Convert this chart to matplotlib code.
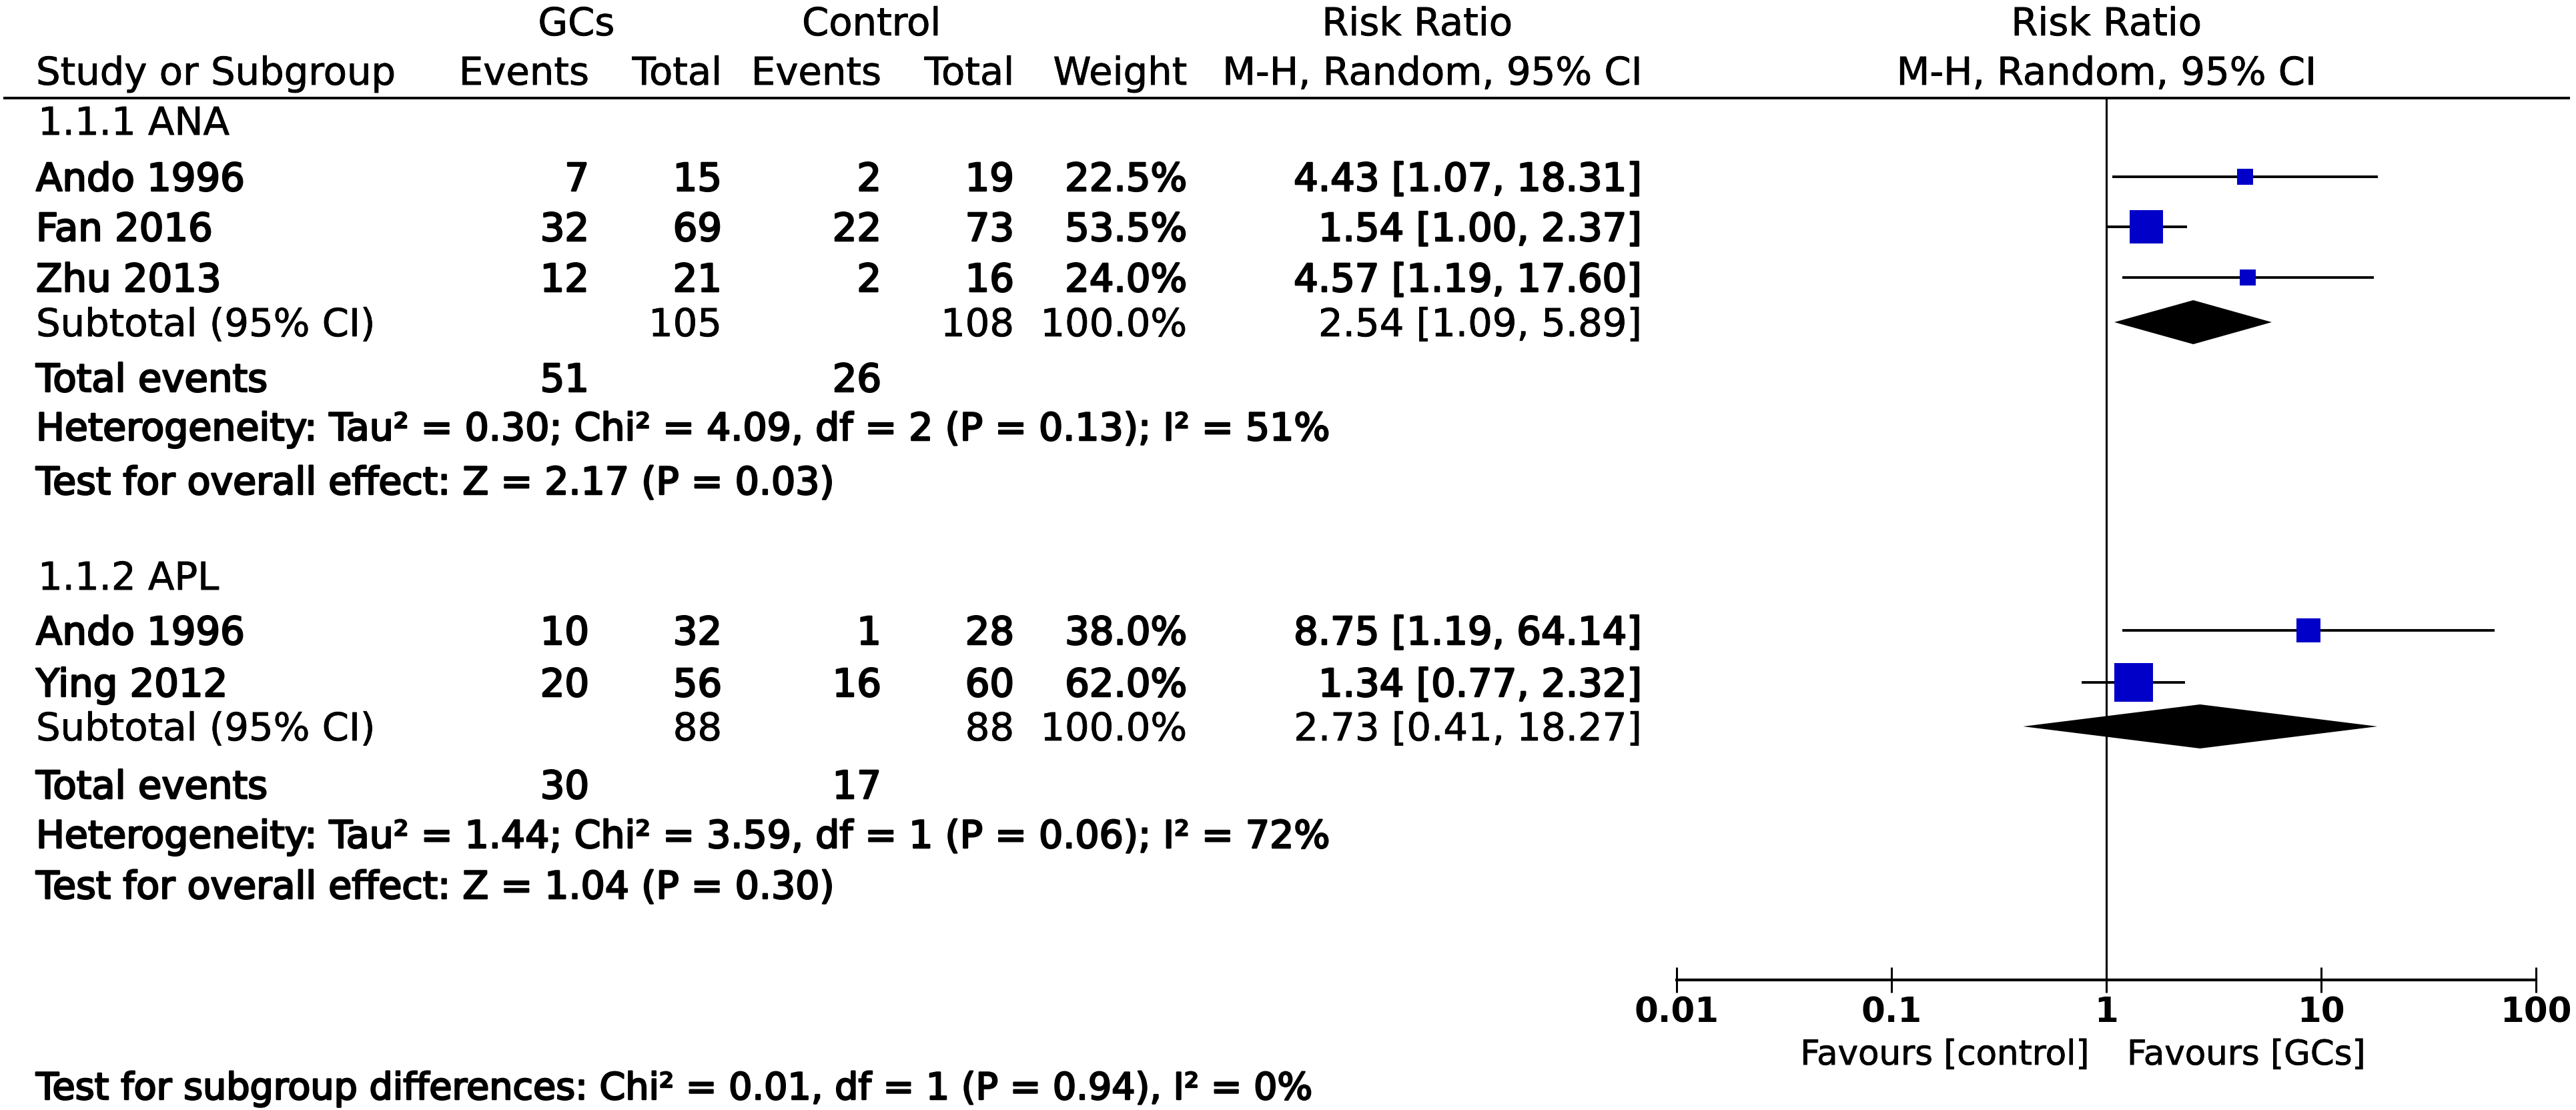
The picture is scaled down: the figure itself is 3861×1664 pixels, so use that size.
import matplotlib
matplotlib.use("Agg")
import matplotlib.pyplot as plt
import matplotlib.patheffects as pe
from matplotlib.ticker import NullLocator

# subgroup 1.1.1 ANA
ana_names = ["Ando 1996", "Fan 2016", "Zhu 2013"]
ana_gc_events = [7, 32, 12]
ana_gc_total = [15, 69, 21]
ana_ctl_events = [2, 22, 2]
ana_ctl_total = [19, 73, 16]
ana_weight = [22.5, 53.5, 24.0]
ana_rr = [4.43, 1.54, 4.57]
ana_lo = [1.07, 1.00, 1.19]
ana_hi = [18.31, 2.37, 17.60]
ana_sub = [2.54, 1.09, 5.89]          # pooled rr, lo, hi
ana_sub_totals = [105, 108]
ana_total_events = [51, 26]
ana_het = "Heterogeneity: Tau² = 0.30; Chi² = 4.09, df = 2 (P = 0.13); I² = 51%"
ana_test = "Test for overall effect: Z = 2.17 (P = 0.03)"

# subgroup 1.1.2 APL
apl_names = ["Ando 1996", "Ying 2012"]
apl_gc_events = [10, 20]
apl_gc_total = [32, 56]
apl_ctl_events = [1, 16]
apl_ctl_total = [28, 60]
apl_weight = [38.0, 62.0]
apl_rr = [8.75, 1.34]
apl_lo = [1.19, 0.77]
apl_hi = [64.14, 2.32]
apl_sub = [2.73, 0.41, 18.27]
apl_sub_totals = [88, 88]
apl_total_events = [30, 17]
apl_het = "Heterogeneity: Tau² = 1.44; Chi² = 3.59, df = 1 (P = 0.06); I² = 72%"
apl_test = "Test for overall effect: Z = 1.04 (P = 0.30)"

subgroup_test = "Test for subgroup differences: Chi² = 0.01, df = 1 (P = 0.94), I² = 0%"

tick_vals = [0.01, 0.1, 1, 10, 100]
tick_labels = ["0.01", "0.1", "1", "10", "100"]

plt.rcParams['font.family'] = ['DejaVu Sans']

W, H = 3862, 1664
FS = 41.5
BOLD = [pe.withStroke(linewidth=1.8, foreground="black")]
REG = [pe.withStroke(linewidth=0.6, foreground="black")]

fig = plt.figure(figsize=(W / 100, H / 100), dpi=100)
tab = fig.add_axes([0, 0, 1, 1])
tab.set_xlim(0, W)
tab.set_ylim(H, 0)
tab.axis("off")

# column right edges (pixels)
X_NAME = 54
X_GCE, X_GCT, X_CTE, X_CTT, X_W, X_RR = 883, 1082, 1321, 1520, 1779, 2461


def put(x, y, s, ha="right", bold=False, size=FS):
    t = tab.text(x, y, s, ha=ha, va="baseline", fontsize=size, color="black")
    t.set_path_effects(BOLD if bold else REG)
    return t


def ci_text(r, lo, hi):
    return f"{r:.2f} [{lo:.2f}, {hi:.2f}]"


# headers
put(864, 53, "GCs", ha="center")
put(1306, 53, "Control", ha="center")
put(2124, 53, "Risk Ratio", ha="center")
put(3157, 53, "Risk Ratio", ha="center")
put(X_NAME, 127, "Study or Subgroup", ha="left")
put(X_GCE, 127, "Events")
put(X_GCT, 127, "Total")
put(X_CTE, 127, "Events")
put(X_CTT, 127, "Total")
put(X_W, 127, "Weight")
put(X_RR, 127, "M-H, Random, 95% CI")
put(3157, 127, "M-H, Random, 95% CI", ha="center")
tab.hlines(147, 5, 3852, color="black", lw=2.8)

# forest axes
x0, x1 = 2513, 3801
ytop, ybot = 147, 1469
ax = fig.add_axes([x0 / W, 1 - ybot / H, (x1 - x0) / W, (ybot - ytop) / H])
ax.patch.set_alpha(0)
ax.set_xscale("log")
ax.set_xlim(0.01, 100)
ax.set_ylim(ybot, ytop)
for s in ["top", "left", "right"]:
    ax.spines[s].set_visible(False)
ax.spines["bottom"].set_linewidth(3)
ax.set_yticks([])
ax.set_xticks(tick_vals, labels=tick_labels)
ax.xaxis.set_minor_locator(NullLocator())
ax.tick_params(axis="x", direction="inout", length=27, width=2.2, pad=4,
               labelsize=37)
for lab in ax.get_xticklabels():
    lab.set_fontweight("bold")
ax.axvline(1, color="black", lw=2.2)


def draw_group(title, y_title, names, ge, gt, ce, ct, w, rr, lo, hi,
               sub, sub_tot, tot_ev, het, test, y_rows, y_sub, y_ev, y_het, y_test):
    put(X_NAME + 3, y_title, title, ha="left")
    for i in range(len(names)):
        y = y_rows[i]
        put(X_NAME, y, names[i], ha="left", bold=True)
        put(X_GCE, y, str(ge[i]), bold=True)
        put(X_GCT, y, str(gt[i]), bold=True)
        put(X_CTE, y, str(ce[i]), bold=True)
        put(X_CTT, y, str(ct[i]), bold=True)
        put(X_W, y, f"{w[i]:.1f}%", bold=True)
        put(X_RR, y, ci_text(rr[i], lo[i], hi[i]), bold=True)
        yc = y - 21
        ax.hlines(yc, lo[i], hi[i], color="black", lw=2.8)
        side = (4 + 0.86 * w[i]) * 0.72
        ax.plot(rr[i], yc, marker="s", ms=side, color="#0000C8", mec="#0000C8", mew=0)
    put(X_NAME, y_sub, "Subtotal (95% CI)", ha="left")
    put(X_GCT, y_sub, str(sub_tot[0]))
    put(X_CTT, y_sub, str(sub_tot[1]))
    put(X_W, y_sub, "100.0%")
    put(X_RR, y_sub, ci_text(*sub))
    yc = y_sub - 21
    h = 33
    ax.fill([sub[1], sub[0], sub[2], sub[0]], [yc, yc - h, yc, yc + h],
            color="black", lw=0)
    put(X_NAME, y_ev, "Total events", ha="left", bold=True)
    put(X_GCE, y_ev, str(tot_ev[0]), bold=True)
    put(X_CTE, y_ev, str(tot_ev[1]), bold=True)
    put(X_NAME, y_het, het, ha="left", bold=True, size=41)
    put(X_NAME, y_test, test, ha="left", bold=True, size=41)


draw_group("1.1.1 ANA", 202, ana_names, ana_gc_events, ana_gc_total,
           ana_ctl_events, ana_ctl_total, ana_weight, ana_rr, ana_lo, ana_hi,
           ana_sub, ana_sub_totals, ana_total_events, ana_het, ana_test,
           [286, 361, 437], 504, 587, 660, 741)
draw_group("1.1.2 APL", 884, apl_names, apl_gc_events, apl_gc_total,
           apl_ctl_events, apl_ctl_total, apl_weight, apl_rr, apl_lo, apl_hi,
           apl_sub, apl_sub_totals, apl_total_events, apl_het, apl_test,
           [966, 1044], 1110, 1197, 1271, 1347)

for x, s, ha in [(3131, "Favours [control]", "right"), (3188, "Favours [GCs]", "left")]:
    t = tab.text(x, 1582, s, ha=ha, va="center", fontsize=37)
    t.set_path_effects(REG)
put(X_NAME, 1648, subgroup_test, ha="left", bold=True, size=40)

fig.savefig("out.png", dpi=100, facecolor="white")
